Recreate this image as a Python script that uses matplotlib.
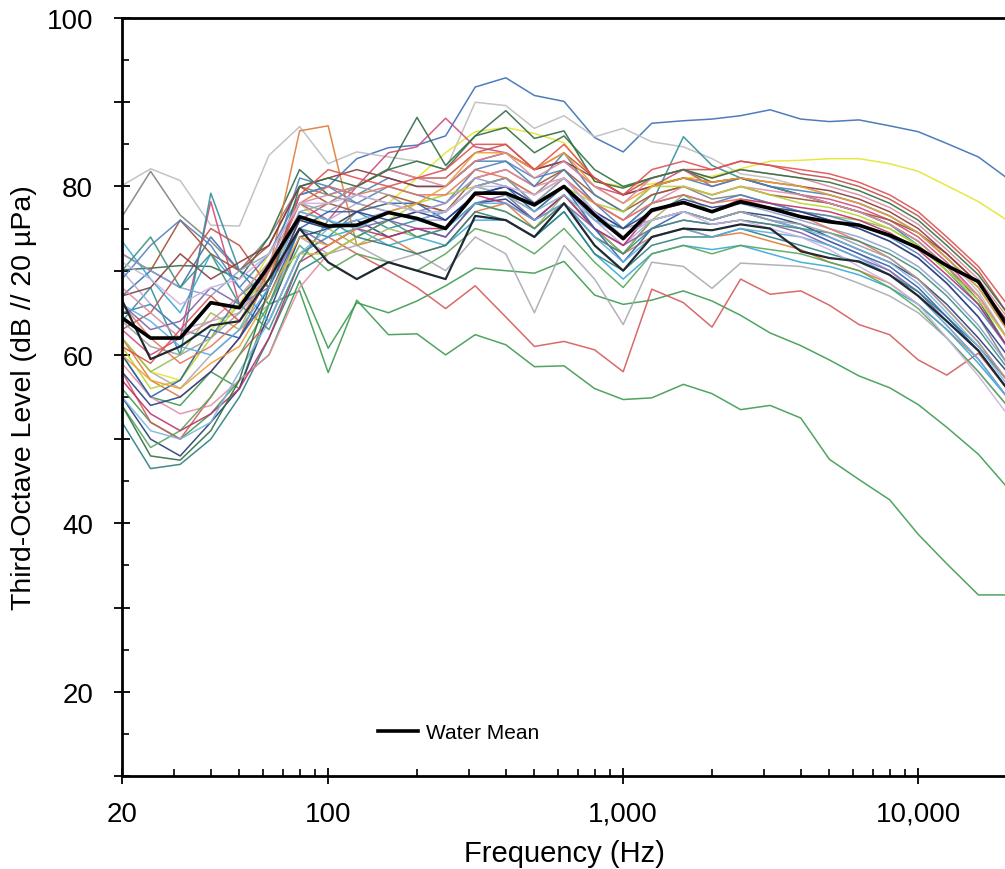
import matplotlib
matplotlib.use("Agg")
import matplotlib.pyplot as plt
from matplotlib.ticker import FixedLocator, FixedFormatter, NullFormatter

plt.rcParams['font.family'] = ['Liberation Sans', 'DejaVu Sans']

# third-octave band centre frequencies (Hz)
freqs = [20, 25, 31.5, 40, 50, 63, 80, 100, 125, 160, 200, 250, 315, 400, 500,
         630, 800, 1000, 1250, 1600, 2000, 2500, 3150, 4000, 5000, 6300, 8000,
         10000, 12500, 16000, 20000]

# mean of all water recordings
water_mean = [64.4, 62.0, 62.0, 66.2, 65.6, 70.6, 76.4, 75.3, 75.4, 76.9, 76.2, 75.0, 79.2, 79.2, 77.8,
              80.0, 76.6, 73.8, 77.2, 78.1, 77.0, 78.2, 77.4, 76.4, 75.8, 75.4, 74.2,
              72.7, 70.6, 68.7, 63.5]

# individual recordings
site_01 = [67, 70, 68, 74, 70, 68, 79, 80, 83.3, 84.6, 84.9, 86.0, 91.8, 92.9, 90.8, 90.1, 85.8, 84.1, 87.5, 87.8, 88.0, 88.4, 89.1, 88.0, 87.7, 87.9, 87.2, 86.5, 85.1, 83.5, 81.0]
site_02 = [60, 55, 54, 58, 56, 66, 67.6, 57.9, 66.5, 62.4, 62.5, 60.0, 62.4, 61.2, 58.6, 58.7, 56.0, 54.7, 54.9, 56.5, 55.4, 53.5, 54.0, 52.5, 47.6, 45.2, 42.8, 38.7, 35.2, 31.5, 31.5]
site_03 = [56, 52, 50, 53, 57, 60, 68.8, 60.8, 66.2, 65.0, 66.4, 68.2, 70.3, 70.0, 69.7, 71.1, 67.1, 66.0, 66.5, 67.6, 66.4, 64.7, 62.6, 61.1, 59.4, 57.5, 56.1, 54.1, 51.4, 48.2, 44.3]
site_04 = [58, 52, 50, 55, 60, 64, 72, 74, 72, 70, 68, 65.5, 68.2, 64.5, 61.0, 61.6, 60.6, 58.0, 67.8, 66.2, 63.3, 69.0, 67.2, 67.6, 65.9, 63.6, 62.4, 59.4, 57.6, 60.2, 56]
site_05 = [80.1, 82.1, 80.7, 75.4, 75.3, 83.7, 87.1, 82.7, 84.1, 83.5, 83, 82, 90, 89.6, 86.9, 88.4, 85.9, 86.9, 85.3, 84.7, 83.3, 81.5, 81, 80, 79, 78, 76.5, 74.5, 71.5, 67.5, 62]
site_06 = [76.4, 81.8, 76.6, 73.5, 70, 74, 80, 79, 78, 77, 78, 77, 80, 81, 79, 82, 78, 76, 79, 80, 78.5, 79, 78, 77, 76, 75, 73.5, 71.5, 68.5, 64.5, 59]
site_07 = [62, 58, 56, 60, 63, 66, 74, 72, 73, 71, 72, 70, 74, 72, 65, 73, 69, 63.6, 71, 70.5, 67.9, 70.9, 70.7, 70.5, 69.8, 68.5, 67, 65, 62, 58, 54]
site_08 = [62, 58, 57, 63, 66, 72, 78, 75, 77, 78, 81, 84, 86.5, 87, 86.3, 85.2, 80.6, 80, 80.3, 81, 81.2, 82.1, 83, 83.1, 83.3, 83.3, 82.7, 81.8, 80.1, 78.2, 76]
site_09 = [70.1, 70.3, 70.6, 70.5, 69, 74, 82, 79, 80, 82.1, 88.2, 82.5, 86, 89, 85.7, 86.6, 80.6, 79.8, 81, 82, 80.5, 81, 80, 79, 78, 77, 75.5, 73.5, 70.5, 66.5, 61]
site_10 = [63, 60, 62, 78.2, 66, 70, 78, 76, 80, 84, 84.7, 88.1, 84.7, 84, 82, 83, 80, 79, 80, 82, 80, 81, 80, 79, 78.5, 77.5, 76, 74, 71, 67, 62]
site_11 = [64, 68, 60, 79.2, 70, 66, 75, 74, 77, 75, 76, 77, 80, 81, 78, 80, 76, 75, 78, 85.9, 82.5, 81, 80, 79, 78, 77, 75.5, 73, 70, 66, 61]
site_12 = [62, 57, 55, 58, 62, 70, 86.6, 87.2, 73, 74, 72, 73, 77, 78, 75, 78, 74, 72, 74, 75, 74, 74.5, 73.5, 72.5, 71, 70, 68.5, 66, 63, 59.5, 55]
site_13 = [55, 50, 48, 52, 56, 65, 74, 75, 76, 74, 75, 74, 78, 78.5, 76, 79, 75, 72, 76, 77, 76, 77, 76.5, 75.5, 74, 72.5, 71, 69, 66, 62, 58]
site_14 = [70, 66, 63, 64, 65, 70, 77, 76, 78, 77, 76, 76, 79, 80, 78, 80, 76, 73, 76, 77, 76, 77, 76, 75, 73.5, 72, 70, 67, 63.5, 59.5, 55]
site_15 = [73.5, 69, 65, 72, 68, 64, 72, 74, 75, 73, 74, 73, 76, 76, 74, 77, 72, 69, 72, 73, 72.5, 73, 72, 71, 70.5, 69.5, 68, 66, 63, 59, 55]
site_16 = [62, 58, 60, 65, 63, 70, 76, 75, 73, 75, 74, 75, 78, 77, 75, 79, 75, 72, 76, 79, 77, 78, 77.5, 77, 76.5, 76, 75, 73, 70, 67, 62]
site_17 = [72, 70, 76, 72, 70, 73, 80, 78, 77, 79, 78, 77, 81, 82, 80, 82, 79, 77, 79, 80, 79, 80, 79, 78.5, 78, 77, 76, 74.5, 72, 68.5, 64]
site_18 = [66, 63, 64, 68, 66, 68, 75, 73, 75, 76, 75, 74, 78, 79, 76, 78, 75, 73, 75, 76, 75.5, 76, 75.5, 74.5, 73, 71.5, 70, 67.5, 64, 60.5, 56]
site_19 = [69, 73, 76, 73, 68, 72, 79, 80, 78, 80, 79, 78, 82, 83, 81, 82, 78, 75, 78, 79, 78, 79, 78, 77, 76.5, 75.5, 74, 72, 69, 65.5, 61]
site_20 = [52, 46.5, 47, 50, 55, 62, 70, 72, 74, 73, 72, 73, 77, 76, 74, 77, 72, 70, 73, 74, 74, 75, 74, 73, 72, 71, 69.5, 67.5, 64.5, 61, 57]
site_21 = [59, 55, 53, 54, 57, 60, 68, 72, 74, 76, 77, 78, 81, 82, 80, 81, 78, 76, 78, 80, 79, 80, 79.5, 79, 78, 77, 75.5, 73.5, 70.5, 67, 62]
site_22 = [63, 65, 70, 75, 73, 68, 76, 78, 80, 82, 81, 81, 84, 85, 82, 84, 81, 79, 81, 82, 82, 83, 82.5, 81.5, 81, 80, 78.5, 76.5, 73.5, 70, 65]
site_23 = [65, 66, 63, 62, 67, 70, 81, 80, 79, 81, 80, 80, 83, 83, 80, 84, 79, 77, 80, 81, 80, 81, 80, 79.5, 79, 78, 76.5, 74.5, 71.5, 68, 63]
site_24 = [54, 49, 51, 55, 60, 66, 73, 70, 72, 71, 70, 72, 75, 74, 72, 75, 71, 68, 72, 73, 72, 73, 72.5, 72, 71, 70, 68, 65.5, 62, 58, 54]
site_25 = [72, 70, 68, 67, 70, 72, 78, 77, 79, 78, 77, 78, 81, 80, 78, 81, 77, 74, 77, 78, 77, 78, 77, 76, 75, 74, 72.5, 70.5, 67.5, 63.5, 59]
site_26 = [67, 68, 72, 69, 71, 73, 80, 81, 82, 81, 80, 80, 83, 84, 82, 83, 81, 79, 80, 81, 80.5, 81, 80.5, 80, 79.5, 78.5, 77, 75, 72, 68.5, 64]
site_27 = [57, 53, 51, 53, 56, 62, 71, 73, 75, 74, 75, 75, 79, 78, 76, 79, 75, 73, 77, 78, 77, 78.5, 78, 77.5, 77, 76, 74.5, 72.5, 69.5, 66, 61]
site_28 = [61, 56, 57, 62, 66, 69, 72, 72, 74, 76, 78, 79, 80, 79, 77, 80, 78, 77, 80, 80, 79, 80, 79, 78, 77.5, 76.5, 75, 73, 70, 66.5, 62]
site_29 = [60, 55, 57, 63, 62, 67, 75, 77, 77, 78, 78, 76, 79, 80, 77, 80, 75, 71, 75, 77, 76, 77, 76, 75, 73.5, 72, 70.5, 68, 64.5, 60.5, 56]
site_30 = [66, 62, 59, 61, 64, 70, 78, 80, 79, 80, 79, 79, 82, 81, 79, 81, 78, 76, 78, 79, 78, 78.5, 77.5, 76.5, 75, 73.5, 71.5, 69, 65.5, 61.5, 57]
site_31 = [55, 51, 50, 52, 58, 64, 72, 75, 76, 77, 76, 77, 80, 79, 77, 79, 76, 74, 76, 77, 76, 77, 76, 75, 74, 72.5, 71, 68.5, 65, 61, 56.5]
site_32 = [70, 74, 68, 72, 66, 63, 71, 76, 74, 76, 74, 75, 78, 77, 75, 78, 74, 72, 75, 76, 75.5, 76, 75.5, 75, 74.5, 73.5, 72, 70, 67, 63, 58.5]
site_33 = [64, 61, 60, 62, 65, 69, 77, 78, 80, 79, 77, 77, 80, 81, 78, 81, 77, 75, 76, 77, 76, 77, 76, 75.5, 74.5, 73, 71.5, 69, 65.5, 61.5, 57]
site_34 = [58, 54, 55, 58, 62, 68, 76, 75, 77, 76, 77, 76, 79, 80, 78, 80, 77, 75, 77, 78.5, 77.5, 78, 77.5, 77, 76, 75, 73.5, 71.5, 68.5, 64.5, 60]
site_35 = [60, 57, 56, 59, 61, 67, 74, 73, 75, 77, 78, 80, 84, 84, 82, 84, 80, 78, 80, 81, 80.5, 81, 80.5, 80, 79, 78, 76.5, 74.5, 71.5, 68, 63]
site_36 = [68, 65, 62, 64, 67, 71, 78, 79, 80, 82, 81, 80, 83, 84, 81, 83, 80, 78, 81, 82, 81, 82, 81.5, 81, 80, 79, 77.5, 75.5, 72.5, 69, 64.5]
site_37 = [54, 48, 47.5, 51, 57, 68, 80, 81, 80, 82, 83, 82, 86, 87, 84, 86, 82, 80, 81, 82, 81, 82, 81.5, 81, 80.5, 79.5, 78, 76, 73, 69.5, 65]
site_38 = [66, 64, 61, 60, 63, 68, 77, 76, 75, 77, 76, 75, 78, 78, 76, 78, 74, 71, 74, 75, 74, 75, 74.5, 74, 73, 71.5, 69.5, 67, 63.5, 59.5, 55]
site_39 = [61, 59, 63, 67, 64, 69, 79, 82, 81, 80, 81, 82, 85, 85, 82, 85, 81, 79, 82, 83, 82, 83, 82.5, 82, 81.5, 80.5, 79, 77, 74, 70.5, 66]
site_40 = [71, 69, 66, 68, 69, 72, 78, 78, 79, 78, 77, 77, 80, 80, 79, 81, 77, 74, 76, 77, 75.5, 76, 75, 74, 72.5, 70.5, 68.5, 66, 62, 57.5, 53]
site_dark = [66.5, 59.5, 61, 63.5, 64, 69, 75, 71, 69, 71, 70, 69, 76.5, 76, 74, 78, 73, 70, 74, 75, 74.8, 75.5, 75, 72.3, 71.5, 71.1, 69.5, 67, 64, 60.5, 56]

sites = [site_01, site_02, site_03, site_04, site_05, site_06, site_07, site_08,
         site_09, site_10, site_11, site_12, site_13, site_14, site_15, site_16,
         site_17, site_18, site_19, site_20, site_21, site_22, site_23, site_24,
         site_25, site_26, site_27, site_28, site_29, site_30, site_31, site_32,
         site_33, site_34, site_35, site_36, site_37, site_38, site_39, site_40]

colors = ['#3A6FB5', '#3C9A50', '#3C9A50', '#D45A5A', '#BDBDBD', '#808080', '#A9A9B4', '#E5E52E',
          '#2E6B45', '#D04A7A', '#2F8F9A', '#E07B39', '#1F3D7A', '#B4A7D6', '#35A7D8', '#9BBB59',
          '#A0522D', '#7F60A8', '#4F81BD', '#2A7F7F', '#E88AA8', '#C0504D', '#4682B4', '#5AA55A',
          '#8DA0CB', '#8B3A3A', '#C02F6B', '#B5D334', '#2E5FA8', '#E8735A', '#7FB3E0', '#3E8E7E',
          '#9E9E9E', '#283C8C', '#F0A030', '#D98BA0', '#2F6F3F', '#5DADE2', '#E05050', '#C8B4E0']

fig = plt.figure(figsize=(10.05, 8.70), dpi=100)
ax = fig.add_axes([122 / 1005, 1 - 777 / 870, 885 / 1005, 758 / 870])

for vals, c in zip(sites, colors):
    ax.plot(freqs, vals, color=c, lw=1.1, alpha=0.9)
ax.plot(freqs, site_dark, color='#202830', lw=1.6)
mean_line, = ax.plot(freqs, water_mean, color='black', lw=2.6, label='Water Mean')

ax.set_xscale('log')
ax.set_xlim(20, 20000)
ax.set_ylim(10, 100)

ax.xaxis.set_major_locator(FixedLocator([20, 100, 1000, 10000]))
ax.xaxis.set_major_formatter(FixedFormatter(['20', '100', '1,000', '10,000']))
minor_x = [m * d for d in (10, 100, 1000, 10000) for m in range(2, 10)]
ax.xaxis.set_minor_locator(FixedLocator([f for f in minor_x if 20 < f < 20000]))
ax.xaxis.set_minor_formatter(NullFormatter())

ax.yaxis.set_major_locator(FixedLocator(list(range(10, 101, 10))))
ax.yaxis.set_major_formatter(FixedFormatter(['', '20', '', '40', '', '60', '', '80', '', '100']))
ax.yaxis.set_minor_locator(FixedLocator(list(range(15, 100, 10))))

ax.tick_params(which='major', direction='inout', length=11.5, width=1.3, labelsize=20)
ax.tick_params(which='minor', direction='in', length=5, width=1.2)
ax.tick_params(axis='y', which='major', pad=15)
ax.tick_params(axis='x', which='major', pad=12)

for side in ('left', 'bottom', 'top'):
    ax.spines[side].set_linewidth(2)
ax.spines['right'].set_visible(False)

ax.set_xlabel('Frequency (Hz)', fontsize=21, labelpad=9)
ax.set_ylabel('Third-Octave Level (dB // 20 µPa)', fontsize=20.5, labelpad=7)

ax.legend(handles=[mean_line], loc='center left', bbox_to_anchor=(378 / 1005, 1 - 734 / 870),
          bbox_transform=fig.transFigure, frameon=False, fontsize=15, handlelength=1.9,
          handletextpad=0.4, borderpad=0, borderaxespad=0)

fig.savefig('out.png', dpi=100)
